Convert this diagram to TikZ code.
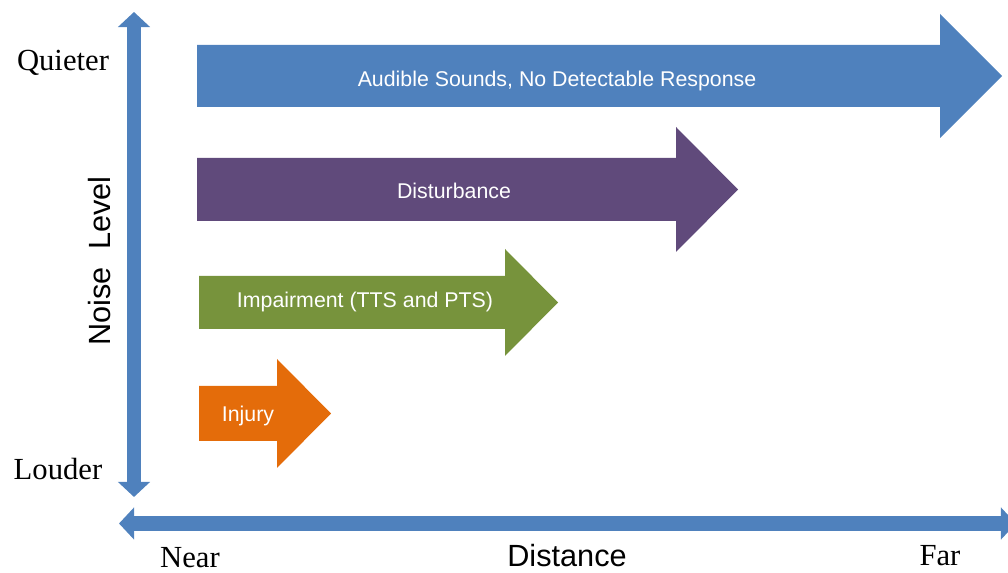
\documentclass[tikz,border=0pt]{standalone}
\usepackage{fontspec}
\setmainfont{Liberation Serif}
\setsansfont{Liberation Sans}
\usepackage{tikz}
\usetikzlibrary{arrows.meta}
\usetikzlibrary{positioning}
\definecolor{axisblue}{HTML}{4F81BD}
\definecolor{purplearrow}{HTML}{604A7B}
\definecolor{greenarrow}{HTML}{77933C}
\definecolor{orangearrow}{HTML}{E46C0A}

\begin{document}
\begin{tikzpicture}[
            x = 0.75pt, y = -0.75pt, % one unit = one pixel
            axis/.style = {draw = axisblue, line width = 10.8pt,
                {Triangle[width = 23.5pt, length = 11.3pt]}-{Triangle[width = 23.5pt, length = 11.3pt]}},
            band/.style = {draw = none},
            inarrow/.style = {text = white, font = \sffamily\fontsize{16}{19}\selectfont, anchor = base},
            endlabel/.style = {font = \rmfamily\fontsize{23}{27}\selectfont, anchor = base},
            axislabel/.style = {font = \sffamily\fontsize{23}{27}\selectfont},
            lowlabel/.style = {text depth = 0pt, inner ysep = 0pt} % keep bottom labels on the page
        ]

        \clip (0,0) rectangle (1008,573);

        % axes
        \coordinate (ytop) at (134,12);
        \coordinate (ybot) at (134,497);
        \coordinate (xleft) at (119,523.5);
        \coordinate (xright) at (1016,523.5);

        \draw[axis] (ytop) -- (ybot);
        \draw[axis] (xleft) -- (xright);

        % end labels
        \node[endlabel] (quieter) at (63,71) {Quieter};
        \node[endlabel] (louder) at (58,480) {Louder};
        \node[endlabel, lowlabel] (near) at (190,568) {Near};
        \node[endlabel, lowlabel] (far) at (940,566) {Far};

        \node[axislabel, lowlabel, anchor = base] (dist) at (567,567) {Distance};
        \node[axislabel, rotate = 90] (noise) at (100,261) {Noise\ \ Level};

        % effect bands
        \fill[band, axisblue] (197,45) -- (940,45) -- (940,14) -- (1002,76)
            -- (940,138) -- (940,107) -- (197,107) -- cycle;
        \fill[band, purplearrow] (197,158) -- (676,158) -- (676,127) -- (738,189.5)
            -- (676,252) -- (676,221) -- (197,221) -- cycle;
        \fill[band, greenarrow] (199,276) -- (505,276) -- (505,249) -- (558,302.5)
            -- (505,356) -- (505,329) -- (199,329) -- cycle;
        \fill[band, orangearrow] (199,386) -- (277,386) -- (277,359) -- (331,413.5)
            -- (277,468) -- (277,441) -- (199,441) -- cycle;

        \node[inarrow] (audible) at (557,87) {Audible Sounds, No Detectable Response};
        \node[inarrow] (disturb) at (454,199) {Disturbance};
        \node[inarrow] (impair) at (365,308) {Impairment (TTS and PTS)};
        \node[inarrow] (injury) at (248,422) {Injury};

\end{tikzpicture}
\end{document}
